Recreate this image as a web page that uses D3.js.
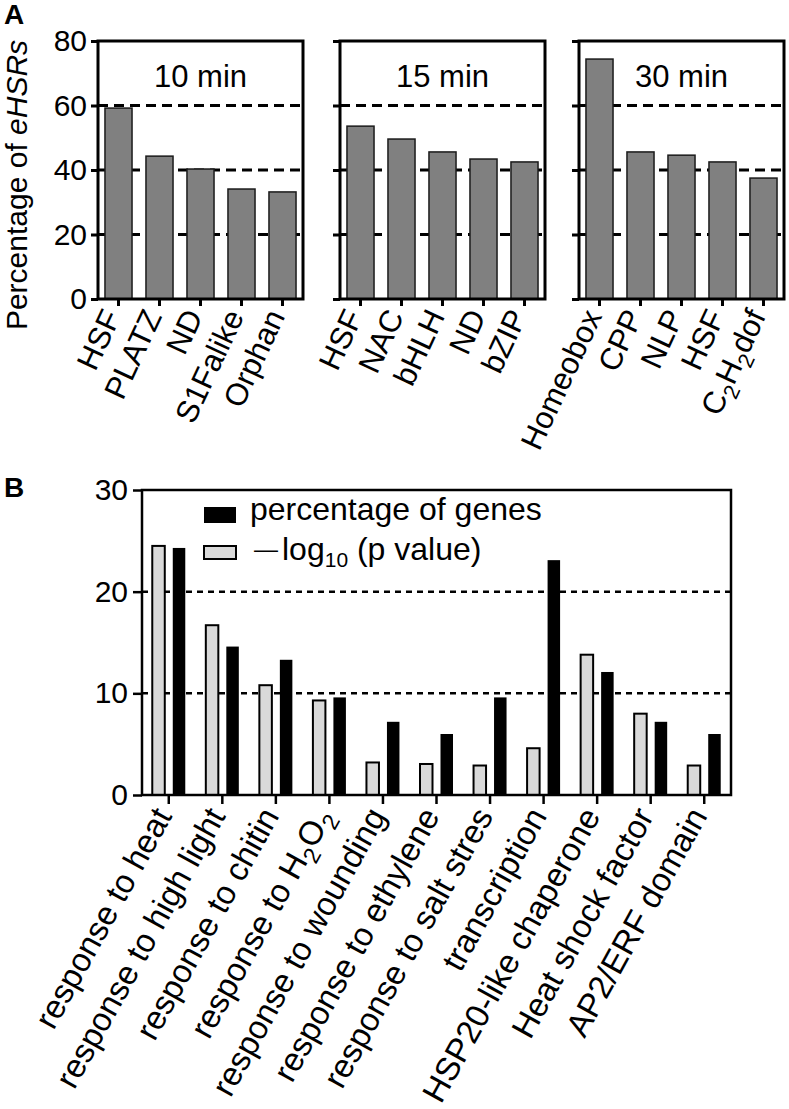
<!DOCTYPE html>
<html>
<head>
<meta charset="utf-8">
<script src="https://cdn.jsdelivr.net/npm/d3@7"></script>
<style>
  body { margin: 0; background: #fff; }
  svg { font-family: "Liberation Sans", Arial, sans-serif; }
</style>
</head>
<body>
<script>
// ---- data: panel A ----
const titlesA = ["10 min", "15 min", "30 min"];
const cats10 = ["HSF", "PLATZ", "ND", "S1Falike", "Orphan"];
const vals10 = [59.2, 44.3, 40.3, 34.1, 33.2];
const cats15 = ["HSF", "NAC", "bHLH", "ND", "bZIP"];
const vals15 = [53.6, 49.6, 45.6, 43.4, 42.5];
const cats30 = ["Homeobox", "CPP", "NLP", "HSF", "C{2}H{2}dof"];
const vals30 = [74.4, 45.6, 44.6, 42.5, 37.5];
const yTicksA = [0, 20, 40, 60, 80];
const gridA = [20, 40, 60];

// ---- data: panel B ----
const catsB = ["response to heat", "response to high light", "response to chitin",
  "response to H{2}O{2}", "response to wounding", "response to ethylene",
  "response to salt stres", "transcription", "HSP20-like chaperone",
  "Heat shock factor", "AP2/ERF domain"];
const logP = [24.5, 16.7, 10.8, 9.3, 3.2, 3.05, 2.9, 4.6, 13.8, 8.0, 2.9];
const pctGenes = [24.3, 14.6, 13.3, 9.6, 7.2, 6.0, 9.6, 23.1, 12.1, 7.2, 6.0];
const yTicksB = [0, 10, 20, 30];
const gridB = [10, 20];

const svg = d3.select("body").append("svg")
  .attr("width", 789)
  .attr("height", 1109);

// label with {n} subscripts -> tspans
function subLabel(sel, fs) {
  sel.each(function(d) {
    const t = d3.select(this);
    const parts = String(d).split(/(\{\d+\})/).filter(p => p.length);
    t.text("");
    let shifted = false;
    parts.forEach(p => {
      const m = p.match(/^\{(\d+)\}$/);
      if (m) {
        t.append("tspan").attr("dy", shifted ? 0 : fs * 0.25)
          .style("font-size", (fs * 0.7) + "px").text(m[1]);
        shifted = true;
      } else {
        t.append("tspan").attr("dy", shifted ? -fs * 0.25 : 0).text(p);
        shifted = false;
      }
    });
  });
}

// ================= Panel A =================
const leftA = [98, 340, 579];
const wA = 205;
const yA = d3.scaleLinear().domain([0, 80]).range([299, 41]);
const setsA = [[cats10, vals10], [cats15, vals15], [cats30, vals30]];

setsA.forEach(([cats, vals], i) => {
  const L = leftA[i];
  const g = svg.append("g");
  const x = d3.scaleBand().domain(cats).range([L, L + wA])
    .paddingInner(0.34).paddingOuter(0.17);

  g.selectAll(".grid").data(gridA).enter().append("line")
    .attr("x1", L).attr("x2", L + wA)
    .attr("y1", d => yA(d)).attr("y2", d => yA(d))
    .attr("stroke", "#000").attr("stroke-width", 3)
    .attr("stroke-dasharray", "10,6");

  g.selectAll(".bar").data(vals).enter().append("rect")
    .attr("x", (d, j) => x(cats[j]))
    .attr("y", d => yA(d))
    .attr("width", x.bandwidth())
    .attr("height", d => yA(0) - yA(d))
    .attr("fill", "#808080")
    .attr("stroke", "#1a1a1a").attr("stroke-width", 1.5);

  g.append("rect")
    .attr("x", L).attr("y", yA(80)).attr("width", wA).attr("height", yA(0) - yA(80))
    .attr("fill", "none").attr("stroke", "#000").attr("stroke-width", 3);

  const ay = g.append("g").attr("transform", `translate(${L},0)`)
    .call(d3.axisLeft(yA).tickValues(yTicksA).tickSize(7).tickSizeOuter(0)
      .tickPadding(4).tickFormat(i === 0 ? d3.format("d") : ""));
  ay.select(".domain").remove();
  ay.selectAll("line").attr("stroke-width", 3);
  ay.selectAll("text").style("font-size", "30px").attr("fill", "#000");

  const ax = g.append("g").attr("transform", `translate(0,${yA(0)})`)
    .call(d3.axisBottom(x).tickSize(7).tickSizeOuter(0));
  ax.select(".domain").remove();
  ax.selectAll("line").attr("stroke-width", 3);
  ax.selectAll("text")
    .attr("x", 0).attr("y", 0).attr("dy", "0.35em")
    .attr("transform", "translate(3,17) rotate(-65)")
    .style("text-anchor", "end").style("font-size", "31px").attr("fill", "#000")
    .call(subLabel, 31);

  g.append("text")
    .attr("x", L + wA / 2).attr("y", 87)
    .attr("text-anchor", "middle").style("font-size", "31px")
    .text(titlesA[i]);
});

const yLab = svg.append("text")
  .attr("transform", `translate(27,${(yA(0) + yA(80)) / 2 + 15}) rotate(-90)`)
  .attr("text-anchor", "middle").style("font-size", "30px");
yLab.append("tspan").text("Percentage of ");
yLab.append("tspan").style("font-style", "italic").text("eHSRs");

svg.append("text").attr("x", 4).attr("y", 24)
  .style("font-size", "28px").style("font-weight", "bold").text("A");

// ================= Panel B =================
const LB = 142, RB = 731;
const yB = d3.scaleLinear().domain([0, 30]).range([795, 490]);
const xB = d3.scaleBand().domain(catsB).range([LB, RB]);
const xSub = d3.scaleBand().domain(["logP", "pct"]).range([-16.5, 16.5]).paddingInner(0.39);
const gB = svg.append("g");

gB.selectAll(".gridB").data(gridB).enter().append("line")
  .attr("x1", LB).attr("x2", RB)
  .attr("y1", d => yB(d)).attr("y2", d => yB(d))
  .attr("stroke", "#000").attr("stroke-width", 2.5)
  .attr("stroke-dasharray", "6,5");

gB.selectAll(".barP").data(logP).enter().append("rect")
  .attr("x", (d, j) => xB(catsB[j]) + xB.bandwidth() / 2 + xSub("logP"))
  .attr("y", d => yB(d))
  .attr("width", xSub.bandwidth())
  .attr("height", d => yB(0) - yB(d))
  .attr("fill", "#d9d9d9").attr("stroke", "#000").attr("stroke-width", 2);

gB.selectAll(".barG").data(pctGenes).enter().append("rect")
  .attr("x", (d, j) => xB(catsB[j]) + xB.bandwidth() / 2 + xSub("pct"))
  .attr("y", d => yB(d))
  .attr("width", xSub.bandwidth())
  .attr("height", d => yB(0) - yB(d))
  .attr("fill", "#000");

gB.append("rect")
  .attr("x", LB).attr("y", yB(30)).attr("width", RB - LB).attr("height", yB(0) - yB(30))
  .attr("fill", "none").attr("stroke", "#000").attr("stroke-width", 2.5);

const ayB = gB.append("g").attr("transform", `translate(${LB},0)`)
  .call(d3.axisLeft(yB).tickValues(yTicksB).tickSize(9).tickSizeOuter(0).tickPadding(5));
ayB.select(".domain").remove();
ayB.selectAll("line").attr("stroke-width", 2.5);
ayB.selectAll("text").style("font-size", "30px").attr("fill", "#000");

const axB = gB.append("g").attr("transform", `translate(0,${yB(0)})`)
  .call(d3.axisBottom(xB).tickSize(9).tickSizeOuter(0));
axB.select(".domain").remove();
axB.selectAll("line").attr("stroke-width", 2.5);
axB.selectAll("text")
  .attr("x", 0).attr("y", 0).attr("dy", "0.35em")
  .attr("transform", "translate(4,21) rotate(-61)")
  .style("text-anchor", "end").style("font-size", "33px").attr("fill", "#000")
  .call(subLabel, 33);

// legend
const leg = gB.append("g");
leg.append("rect").attr("x", 204).attr("y", 507).attr("width", 32).attr("height", 16).attr("fill", "#000");
leg.append("text").attr("x", 250).attr("y", 520).style("font-size", "32px").text("percentage of genes");
leg.append("rect").attr("x", 204).attr("y", 546).attr("width", 32).attr("height", 13)
  .attr("fill", "#d9d9d9").attr("stroke", "#000").attr("stroke-width", 2);
const lt = leg.append("text").attr("x", 254).attr("y", 560).style("font-size", "32px");
lt.append("tspan").style("font-size", "24px").attr("dy", -3).text("\u2014");
lt.append("tspan").attr("dx", 4).attr("dy", 3).text("log");
lt.append("tspan").style("font-size", "21px").attr("dy", 7).text("10");
lt.append("tspan").attr("dy", -7).text(" (p value)");

svg.append("text").attr("x", 4).attr("y", 497)
  .style("font-size", "28px").style("font-weight", "bold").text("B");
</script>
</body>
</html>
